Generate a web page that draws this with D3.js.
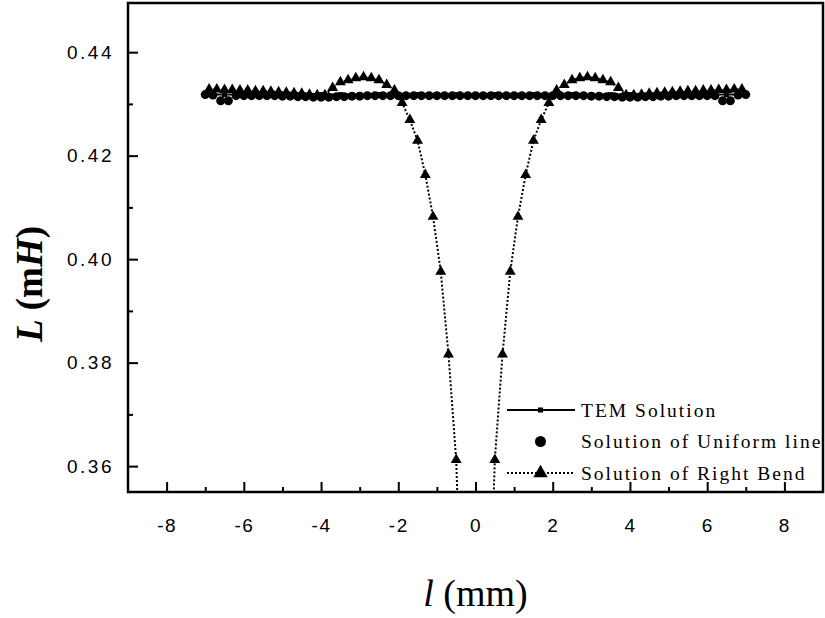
<!DOCTYPE html>
<html>
<head>
<meta charset="utf-8">
<script src="https://cdn.jsdelivr.net/npm/d3@7"></script>
<style>
  body { margin: 0; background: #fff; }
  svg { display: block; }
</style>
</head>
<body>
<script>
const width = 825;
const height = 618;
const margin = {top: 3, right: 2, bottom: 126, left: 128};

// x positions (mm)
const tem_x = [-7, -6.5, -6, -5.5, -5, -4.5, -4, -3.5, -3, -2.5, -2, -1.5, -1, -0.5, 0,
  0.5, 1, 1.5, 2, 2.5, 3, 3.5, 4, 4.5, 5, 5.5, 6, 6.5, 7];
const tem_L = [0.4318, 0.4318, 0.4318, 0.4318, 0.4318, 0.4318, 0.4318, 0.4318, 0.4318, 0.4318,
  0.4318, 0.4318, 0.4318, 0.4318, 0.4318, 0.4318, 0.4318, 0.4318, 0.4318, 0.4318,
  0.4318, 0.4318, 0.4318, 0.4318, 0.4318, 0.4318, 0.4318, 0.4318, 0.4318];

const uni_x = [-7, -6.8, -6.6, -6.4, -6.2, -6, -5.8, -5.6, -5.4, -5.2, -5, -4.8, -4.6, -4.4, -4.2,
  -4, -3.8, -3.6, -3.4, -3.2, -3, -2.8, -2.6, -2.4, -2.2, -2, -1.8, -1.6, -1.4, -1.2,
  -1, -0.8, -0.6, -0.4, -0.2, 0, 0.2, 0.4, 0.6, 0.8, 1, 1.2, 1.4, 1.6, 1.8,
  2, 2.2, 2.4, 2.6, 2.8, 3, 3.2, 3.4, 3.6, 3.8, 4, 4.2, 4.4, 4.6, 4.8,
  5, 5.2, 5.4, 5.6, 5.8, 6, 6.2, 6.4, 6.6, 6.8, 7];
const uni_L = [0.4318, 0.4317, 0.4306, 0.4306, 0.4316, 0.4316, 0.4316, 0.4316, 0.4316, 0.4316,
  0.4315, 0.4315, 0.4314, 0.4314, 0.4313, 0.4313, 0.4313, 0.4314, 0.4314, 0.4315,
  0.4315, 0.4316, 0.4316, 0.4316, 0.4316, 0.4316, 0.4316, 0.4316, 0.4316, 0.4316,
  0.4316, 0.4316, 0.4316, 0.4316, 0.4316, 0.4316, 0.4316, 0.4316, 0.4316, 0.4316,
  0.4316, 0.4316, 0.4316, 0.4316, 0.4316, 0.4316, 0.4316, 0.4316, 0.4316, 0.4316,
  0.4315, 0.4315, 0.4314, 0.4314, 0.4313, 0.4313, 0.4313, 0.4314, 0.4314, 0.4315,
  0.4315, 0.4316, 0.4316, 0.4316, 0.4316, 0.4316, 0.4316, 0.4306, 0.4306, 0.4317, 0.4318];

const bend_x = [-6.9, -6.7, -6.5, -6.3, -6.1, -5.9, -5.7, -5.5, -5.3, -5.1, -4.9, -4.7, -4.5,
  -4.3, -4.1, -3.9, -3.7, -3.5, -3.3, -3.1, -2.9, -2.7, -2.5, -2.3, -2.1, -1.9,
  -1.7, -1.5, -1.3, -1.1, -0.9, -0.7, -0.5, -0.3,
  0.3, 0.5, 0.7, 0.9, 1.1, 1.3, 1.5, 1.7, 1.9, 2.1, 2.3, 2.5, 2.7, 2.9, 3.1, 3.3,
  3.5, 3.7, 3.9, 4.1, 4.3, 4.5, 4.7, 4.9, 5.1, 5.3, 5.5, 5.7, 5.9, 6.1, 6.3, 6.5, 6.7, 6.9];
const bend_L = [0.4328, 0.4328, 0.4327, 0.4327, 0.4326, 0.4326, 0.4325, 0.4325, 0.4324, 0.4323,
  0.4322, 0.4321, 0.4320, 0.4318, 0.4317, 0.4317, 0.4331, 0.4342, 0.4346, 0.4350,
  0.4352, 0.4350, 0.4346, 0.4337, 0.4326, 0.4302, 0.4269, 0.4229, 0.4163, 0.4082,
  0.3976, 0.3816, 0.3612, 0.3150,
  0.3150, 0.3612, 0.3816, 0.3976, 0.4082, 0.4163, 0.4229, 0.4269, 0.4302, 0.4326,
  0.4337, 0.4346, 0.4350, 0.4352, 0.4350, 0.4346, 0.4342, 0.4331, 0.4317, 0.4317,
  0.4318, 0.4320, 0.4321, 0.4322, 0.4323, 0.4324, 0.4325, 0.4325, 0.4326, 0.4326,
  0.4327, 0.4327, 0.4328, 0.4328];

const x_ticks = [-8, -6, -4, -2, 0, 2, 4, 6, 8];
const y_ticks = [0.36, 0.38, 0.40, 0.42, 0.44];
const legend_labels = ['TEM Solution', 'Solution of Uniform line', 'Solution of Right Bend'];

const x = d3.scaleLinear()
  .domain([-9, 9])
  .range([margin.left, width - margin.right]);

const y = d3.scaleLinear()
  .domain([0.355, 0.4495])
  .range([height - margin.bottom, margin.top]);

const svg = d3.select('body').append('svg')
  .attr('width', width)
  .attr('height', height);

svg.append('clipPath').attr('id', 'plot-clip')
  .append('rect')
  .attr('x', margin.left)
  .attr('y', margin.top)
  .attr('width', width - margin.right - margin.left)
  .attr('height', height - margin.bottom - margin.top);

const tickFont = '"Liberation Sans", Arial, sans-serif';
const serif = '"Liberation Serif", "Times New Roman", serif';

// x axis: major + minor ticks pointing inward
const xAxis = g => g
  .attr('transform', `translate(0,${height - margin.bottom})`)
  .call(d3.axisBottom(x).tickValues(x_ticks).tickSize(-10).tickPadding(27).tickFormat(d => String(d)))
  .call(g => g.select('.domain').remove())
  .call(g => g.selectAll('.tick line').attr('stroke-width', 2))
  .call(g => g.selectAll('.tick text')
    .attr('font-family', tickFont).attr('font-size', 19).attr('letter-spacing', 1.5).attr('fill', '#000'));

const xMinor = g => g
  .attr('transform', `translate(0,${height - margin.bottom})`)
  .call(d3.axisBottom(x).tickValues(d3.range(-7, 9, 2)).tickSize(-5).tickFormat(''))
  .call(g => g.select('.domain').remove())
  .call(g => g.selectAll('.tick line').attr('stroke-width', 2));

const yAxis = g => g
  .attr('transform', `translate(${margin.left},0)`)
  .call(d3.axisLeft(y).tickValues(y_ticks).tickSize(-10).tickPadding(14).tickFormat(d3.format('.2f')))
  .call(g => g.select('.domain').remove())
  .call(g => g.selectAll('.tick line').attr('stroke-width', 2))
  .call(g => g.selectAll('.tick text')
    .attr('font-family', tickFont).attr('font-size', 19).attr('letter-spacing', 2.5).attr('fill', '#000'));

const yMinor = g => g
  .attr('transform', `translate(${margin.left},0)`)
  .call(d3.axisLeft(y).tickValues([0.37, 0.39, 0.41, 0.43]).tickSize(-5).tickFormat(''))
  .call(g => g.select('.domain').remove())
  .call(g => g.selectAll('.tick line').attr('stroke-width', 2));

svg.append('g').call(xMinor);
svg.append('g').call(xAxis);
svg.append('g').call(yMinor);
svg.append('g').call(yAxis);

// frame
svg.append('rect')
  .attr('x', margin.left)
  .attr('y', margin.top)
  .attr('width', width - margin.right - margin.left)
  .attr('height', height - margin.bottom - margin.top)
  .attr('fill', 'none')
  .attr('stroke', '#000')
  .attr('stroke-width', 2.5);

const plot = svg.append('g').attr('clip-path', 'url(#plot-clip)');

const line = d3.line()
  .x(d => x(d.x))
  .y(d => y(d.L));

const tem = tem_x.map((v, i) => ({x: v, L: tem_L[i]}));
const uni = uni_x.map((v, i) => ({x: v, L: uni_L[i]}));
const bend = bend_x.map((v, i) => ({x: v, L: bend_L[i]}));

const triangle = d3.symbol().type(d3.symbolTriangle).size(52);

// right bend: dotted line + triangles
plot.append('path')
  .datum(bend)
  .attr('fill', 'none')
  .attr('stroke', '#000')
  .attr('stroke-width', 2)
  .attr('stroke-dasharray', '2,2')
  .attr('d', line);

plot.selectAll('.tri')
  .data(bend)
  .join('path')
  .attr('class', 'tri')
  .attr('transform', d => `translate(${x(d.x)},${y(d.L)})`)
  .attr('d', triangle)
  .attr('fill', '#000');

// TEM solution: solid line + small squares
plot.append('path')
  .datum(tem)
  .attr('fill', 'none')
  .attr('stroke', '#000')
  .attr('stroke-width', 2)
  .attr('d', line);

plot.selectAll('.sq')
  .data(tem)
  .join('rect')
  .attr('class', 'sq')
  .attr('x', d => x(d.x) - 2.5)
  .attr('y', d => y(d.L) - 2.5)
  .attr('width', 5)
  .attr('height', 5)
  .attr('fill', '#000');

// uniform line: circles
plot.selectAll('.dot')
  .data(uni)
  .join('circle')
  .attr('class', 'dot')
  .attr('cx', d => x(d.x))
  .attr('cy', d => y(d.L))
  .attr('r', 4.5)
  .attr('fill', '#000');

// legend
const legend = svg.append('g').attr('transform', 'translate(507,410)');
const rowGap = 31.5;

legend.append('line')
  .attr('x1', 0).attr('x2', 68).attr('y1', 0).attr('y2', 0)
  .attr('stroke', '#000').attr('stroke-width', 2);
legend.append('rect')
  .attr('x', 31).attr('y', -2.5).attr('width', 5).attr('height', 5).attr('fill', '#000');

legend.append('circle')
  .attr('cx', 33.5).attr('cy', rowGap).attr('r', 5.5).attr('fill', '#000');

legend.append('line')
  .attr('x1', 0).attr('x2', 68).attr('y1', rowGap * 2).attr('y2', rowGap * 2)
  .attr('stroke', '#000').attr('stroke-width', 2).attr('stroke-dasharray', '2,2');
legend.append('path')
  .attr('transform', `translate(33.5,${rowGap * 2})`)
  .attr('d', d3.symbol().type(d3.symbolTriangle).size(90))
  .attr('fill', '#000');

legend.selectAll('.lbl')
  .data(legend_labels)
  .join('text')
  .attr('class', 'lbl')
  .attr('x', 74)
  .attr('y', (d, i) => i * rowGap)
  .attr('dy', '0.35em')
  .attr('font-family', serif)
  .attr('font-size', 19.5)
  .attr('letter-spacing', 2)
  .text(d => d);

// axis titles
const xTitle = svg.append('text')
  .attr('x', (margin.left + width - margin.right) / 2)
  .attr('y', 606)
  .attr('text-anchor', 'middle')
  .attr('font-family', serif)
  .attr('font-size', 38);
xTitle.append('tspan').attr('font-style', 'italic').text('l');
xTitle.append('tspan').text(' (mm)');

const yTitle = svg.append('text')
  .attr('transform', `translate(42,284) rotate(-90)`)
  .attr('text-anchor', 'middle')
  .attr('font-family', serif)
  .attr('font-weight', 'bold')
  .attr('font-size', 37);
yTitle.append('tspan').attr('font-style', 'italic').text('L');
yTitle.append('tspan').text(' (m');
yTitle.append('tspan').attr('font-style', 'italic').text('H');
yTitle.append('tspan').text(')');
</script>
</body>
</html>
